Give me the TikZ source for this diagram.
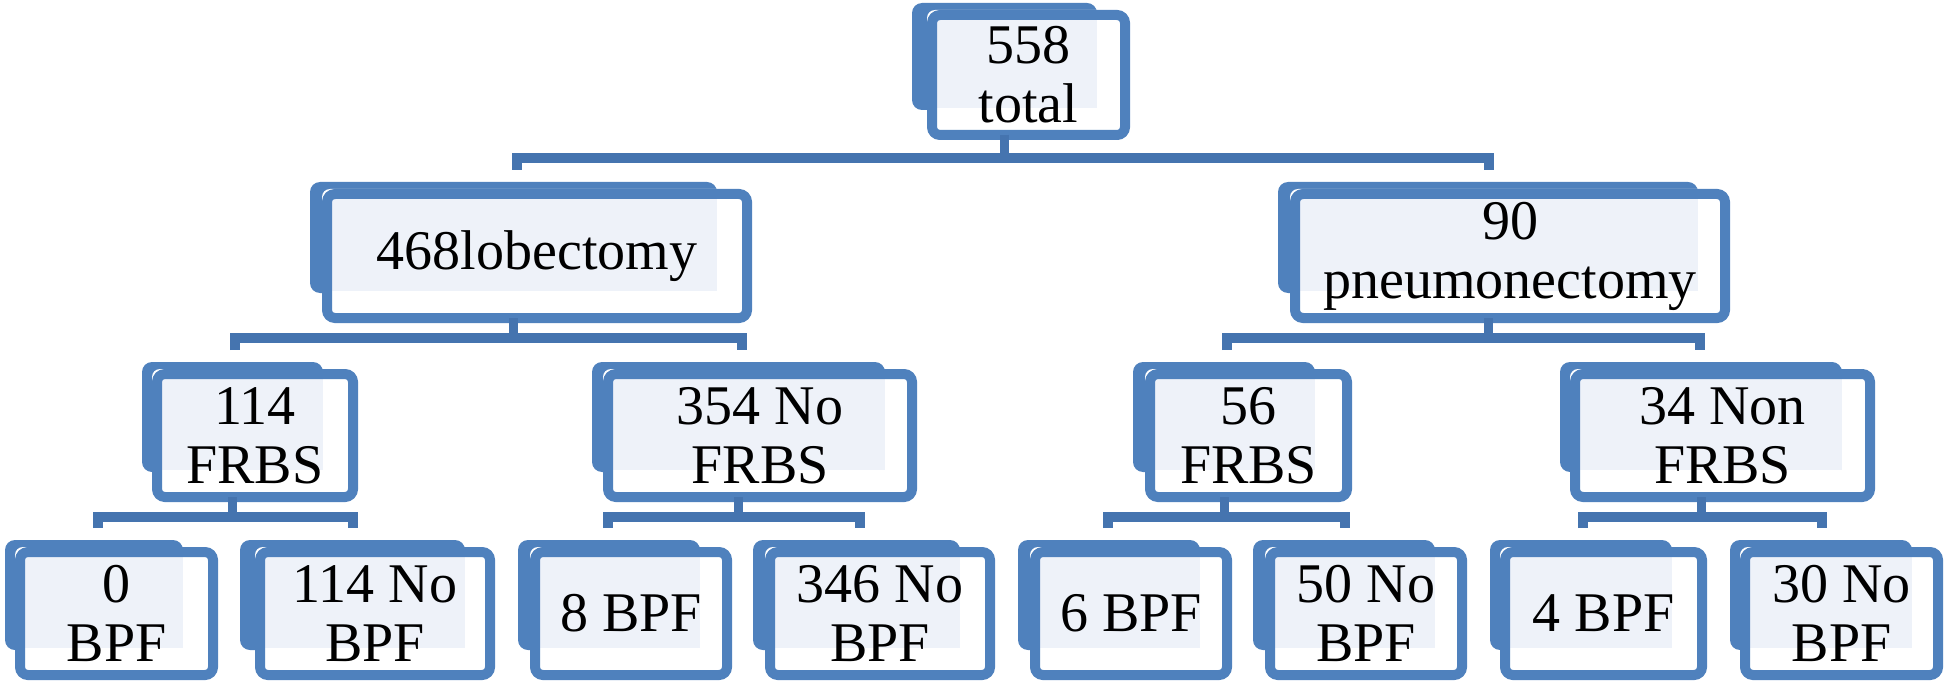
\documentclass[tikz,border=0pt]{standalone}
\usepackage{fontspec}
\setmainfont{Liberation Serif}
\definecolor{boxblue}{HTML}{4F81BD}
\definecolor{connblue}{HTML}{4574AF}
\definecolor{lightfill}{HTML}{EEF2F9}
\tikzset{
  frontbox/.style={draw=boxblue, line width=5pt, rounded corners=4pt, inner sep=0pt, outer sep=0pt, align=center, font=\fontsize{28pt}{29.5pt}\selectfont},
  backbox/.style={fill=boxblue, rounded corners=5pt, inner sep=0pt, outer sep=0pt},
  conn/.style={draw=connblue, line width=5pt, line join=miter},
  stemline/.style={draw=connblue, line width=4.5pt},
}
% name, bx1, by1, bx2, by2, fx1, fx2, text
\newcommand\obox[8]{%
  \node[backbox, minimum width={(#4-#2)*0.5pt}, minimum height={(#5-#3)*0.5pt}] (#1-back) at ({(#2+#4)/2},{(#3+#5)/2}) {};
  \fill[white, rounded corners=4pt] (#6,#3+7) rectangle (#7,#5+30);
  \fill[lightfill] (#6+10,#3+17) rectangle (#4,#5-2);
  \node[frontbox, minimum width={(#7-#6-10)*0.5pt}, minimum height={(#5-#3+13)*0.5pt}] (#1) at ({(#6+#7)/2},{(#3+#5+37)/2}) {#8};
}
% parent, xl, xr, ybar, ydrop
\newcommand\otree[5]{%
  \coordinate (#1-bl) at (#2,#5);
  \coordinate (#1-br) at (#3,#5);
  \coordinate (#1-bar) at (0,#4);
  \draw[stemline] (#1-back.south |- #1.south) -- (#1-back.south |- #1-bar);
  \draw[conn] (#1-bl) -- (#1-bl |- #1-bar) -- (#1-br |- #1-bar) -- (#1-br);
}
\begin{document}
\begin{tikzpicture}[x=0.5pt, y=-0.5pt]
\useasboundingbox (0,0) rectangle (1946,684);
\obox{n558}{912}{3}{1097}{110}{927}{1130}{558\\total}
\obox{nlob}{310}{182}{717}{293}{322}{752}{468lobectomy}
\obox{npn}{1278}{182}{1698}{293}{1290}{1730}{90\\pneumonectomy}
\obox{n114}{142}{362}{323}{472}{152}{358}{114\\FRBS}
\obox{n354}{592}{362}{885}{472}{603}{917}{354 No\\FRBS}
\obox{n56}{1133}{362}{1315}{472}{1145}{1352}{56\\FRBS}
\obox{n34}{1560}{362}{1842}{472}{1570}{1875}{34 Non\\FRBS}
\obox{n0}{5}{540}{183}{650}{15}{218}{0\\BPF}
\obox{n114n}{240}{540}{465}{650}{255}{495}{114 No\\BPF}
\obox{n8}{518}{540}{700}{650}{530}{732}{8 BPF}
\obox{n346}{753}{540}{960}{650}{765}{995}{346 No\\BPF}
\obox{n6}{1018}{540}{1200}{650}{1030}{1232}{6 BPF}
\obox{n50}{1253}{540}{1435}{650}{1265}{1467}{50 No\\BPF}
\obox{n4}{1490}{540}{1672}{650}{1500}{1707}{4 BPF}
\obox{n30}{1730}{540}{1912}{650}{1740}{1943}{30 No\\BPF}
\otree{n558}{517}{1489}{158}{170}
\otree{nlob}{235}{742}{338}{350}
\otree{npn}{1227}{1700}{338}{350}
\otree{n114}{98}{353}{517}{528}
\otree{n354}{608}{860}{517}{528}
\otree{n56}{1108}{1345}{517}{528}
\otree{n34}{1583}{1822}{517}{528}
\end{tikzpicture}
\end{document}
